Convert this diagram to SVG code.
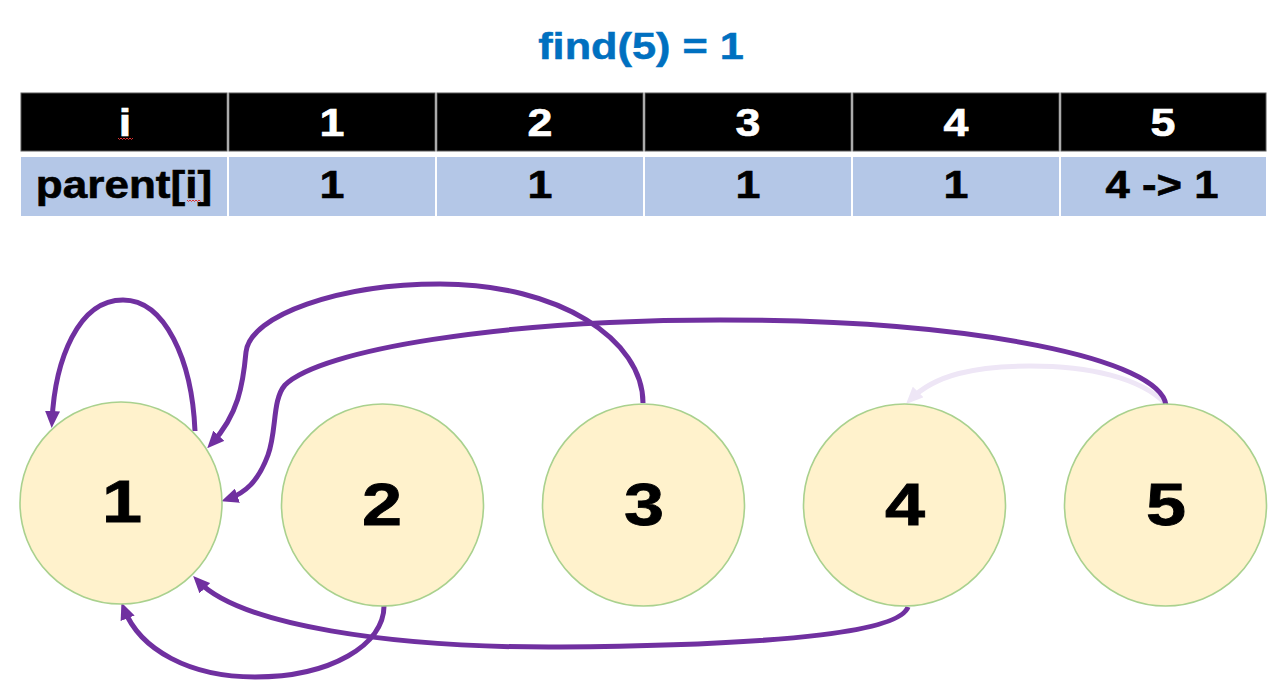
<svg xmlns="http://www.w3.org/2000/svg" width="1286" height="696" viewBox="0 0 1286 696">
<style>
.t{font-family:"Liberation Sans",Arial,sans-serif;font-weight:bold;text-anchor:middle}
.hd{fill:#000;stroke:#595959;stroke-width:1}
.bd{fill:#B4C7E7}
.ht{fill:#fff;stroke:#fff;stroke-width:0.6;font-size:39px}
.bt{fill:#000;stroke:#000;stroke-width:0.6;font-size:39px}
.node circle{fill:#FFF2CC;stroke:#A9D18E;stroke-width:1.6}
.nt{fill:#000;stroke:#000;stroke-width:0.8;font-size:60px}
.c{fill:none;stroke:#7030A0;stroke-width:5}
.cf{fill:none;stroke:#EEE6F6;stroke-width:5}
.sq{fill:none;stroke:#E03030;stroke-width:1}
</style>
<defs>
<marker id="ah" markerUnits="userSpaceOnUse" markerWidth="17" markerHeight="15" refX="10" refY="7.5" orient="auto"><path d="M0,0 L17,7.5 L0,15 z" fill="#7030A0"/></marker>
<marker id="ahf" markerUnits="userSpaceOnUse" markerWidth="17" markerHeight="15" refX="10" refY="7.5" orient="auto"><path d="M0,0 L17,7.5 L0,15 z" fill="#EEE6F6"/></marker>
</defs>
<rect width="1286" height="696" fill="#fff"/>
<text class="t" transform="translate(641,58.5) scale(1.17,1)" style="font-size:37px;fill:#0070C0;stroke:#0070C0;stroke-width:0.5">find(5) = 1</text>
<g id="table">
<rect class="hd" x="21" y="93" width="206" height="58"/>
<rect class="hd" x="229" y="93" width="206" height="58"/>
<rect class="hd" x="437" y="93" width="206" height="58"/>
<rect class="hd" x="645" y="93" width="206" height="58"/>
<rect class="hd" x="853" y="93" width="206" height="58"/>
<rect class="hd" x="1061" y="93" width="205" height="58"/>
<rect class="bd" x="21" y="157" width="206" height="59"/>
<rect class="bd" x="229" y="157" width="206" height="59"/>
<rect class="bd" x="437" y="157" width="206" height="59"/>
<rect class="bd" x="645" y="157" width="206" height="59"/>
<rect class="bd" x="853" y="157" width="206" height="59"/>
<rect class="bd" x="1061" y="157" width="205" height="59"/>
<text class="t ht" transform="translate(125,136) scale(1.15,1)">i</text>
<text class="t ht" transform="translate(332,136) scale(1.15,1)">1</text>
<text class="t ht" transform="translate(540,136) scale(1.15,1)">2</text>
<text class="t ht" transform="translate(748,136) scale(1.15,1)">3</text>
<text class="t ht" transform="translate(956,136) scale(1.15,1)">4</text>
<text class="t ht" transform="translate(1163,136) scale(1.15,1)">5</text>
<text class="t bt" transform="translate(124,198) scale(1.13,1)">parent[i]</text>
<text class="t bt" transform="translate(332,198) scale(1.15,1)">1</text>
<text class="t bt" transform="translate(540,198) scale(1.15,1)">1</text>
<text class="t bt" transform="translate(748,198) scale(1.15,1)">1</text>
<text class="t bt" transform="translate(956,198) scale(1.15,1)">1</text>
<text class="t bt" transform="translate(1162,198) scale(1.12,1)">4 -&gt; 1</text>
<path class="sq" d="M118,138 l1.5,1.5 l1.5,-1.5 l1.5,1.5 l1.5,-1.5 l1.5,1.5 l1.5,-1.5 l1.5,1.5 l1.5,-1.5 l1.5,1.5 l1.5,-1.5"/>
<path class="sq" d="M187,200 l1.5,1.5 l1.5,-1.5 l1.5,1.5 l1.5,-1.5 l1.5,1.5 l1.5,-1.5 l1.5,1.5 l1.5,-1.5 l1.5,1.5"/>
</g>
<g id="connectors">
<path class="cf" d="M1165,403 C1140,378 1090,366 1030,366 C975,366 935,375 911,399" marker-end="url(#ahf)"/>
<path class="c" d="M195,431 C192,360 165,300 123,300 C78,300 55,360 52,421" marker-end="url(#ah)"/>
<path class="c" d="M643,403 C643,340 560,284 440,284 C340,284 250,315 246,352 C243,385 238,415 212,443" marker-end="url(#ah)"/>
<path class="c" d="M1166,405 C1160,360 980,320 720,320 C500,320 320,350 285,385 C272,400 277,430 268,455 C258,482 245,493 228,499" marker-end="url(#ah)"/>
<path class="c" d="M384,605 C385,645 330,677 255,677 C190,677 140,650 124,609" marker-end="url(#ah)"/>
<path class="c" d="M908,607 C900,630 800,645 560,647 C390,648 240,625 198,581" marker-end="url(#ah)"/>
</g>
<g id="node1" class="node"><circle cx="121" cy="503" r="101"/><text class="t nt" transform="translate(122,522) scale(1.2,1)">1</text></g>
<g id="node2" class="node"><circle cx="382.5" cy="505" r="101"/><text class="t nt" transform="translate(382,525) scale(1.2,1)">2</text></g>
<g id="node3" class="node"><circle cx="643.5" cy="505" r="101"/><text class="t nt" transform="translate(644,525) scale(1.2,1)">3</text></g>
<g id="node4" class="node"><circle cx="904.5" cy="505" r="101"/><text class="t nt" transform="translate(905,525) scale(1.2,1)">4</text></g>
<g id="node5" class="node"><circle cx="1165.5" cy="505" r="101"/><text class="t nt" transform="translate(1166,525) scale(1.2,1)">5</text></g>
</svg>
